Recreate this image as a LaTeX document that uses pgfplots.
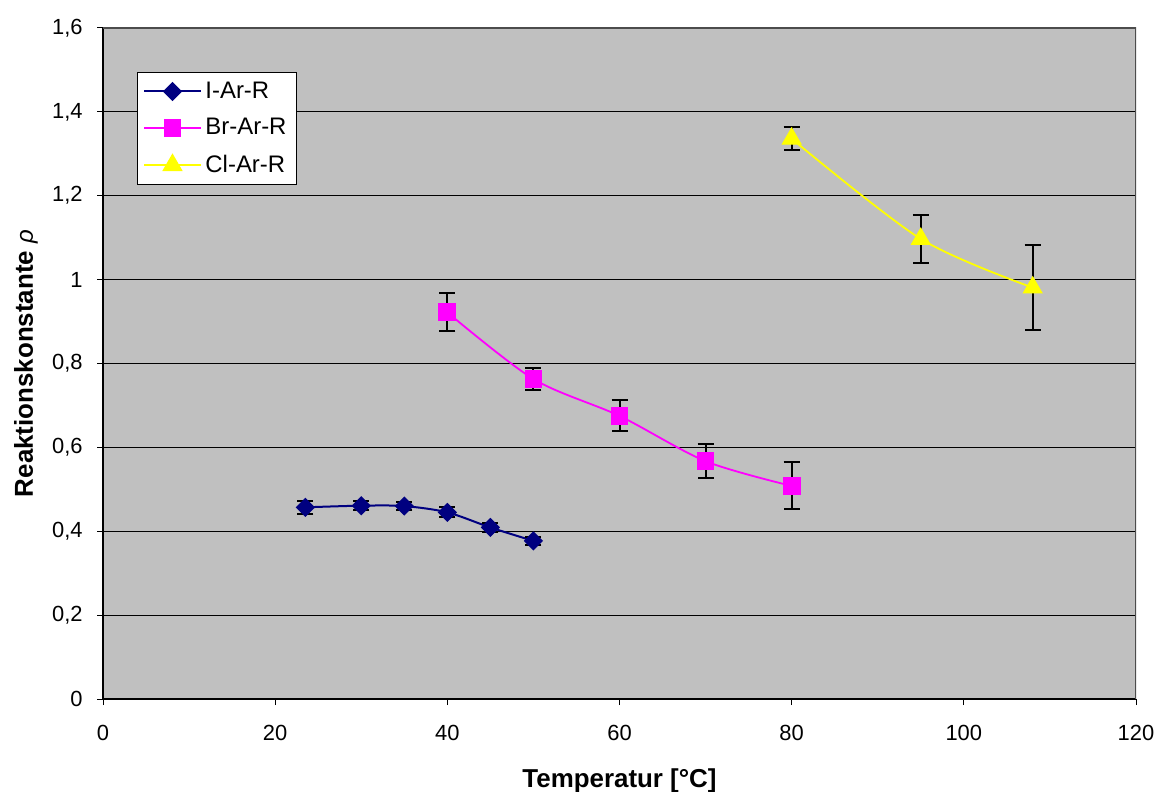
\documentclass[border=0pt]{standalone}
\usepackage{fontspec}
\setmainfont{Liberation Sans}
\usepackage{pgfplots}
\usepackage{pgfplotstable}
\pgfplotsset{compat=1.18}
\definecolor{plotbg}{HTML}{C0C0C0}
\definecolor{inavy}{HTML}{000080}
\definecolor{brmag}{HTML}{FF00FF}
\definecolor{clyel}{HTML}{FFFF00}

\pgfplotstableread{
x     y      e
23.5  0.457  0.016
30    0.461  0.010
35    0.460  0.009
40    0.445  0.012
45    0.409  0.011
50    0.377  0.009
}\dataI
\pgfplotstableread{
x   y      e
40  0.922  0.045
50  0.763  0.027
60  0.675  0.037
70  0.567  0.040
80  0.508  0.056
}\dataBr
\pgfplotstableread{
x    y      e
80   1.336  0.028
95   1.097  0.057
108  0.981  0.101
}\dataCl

\begin{document}
\begin{tikzpicture}
\begin{axis}[
  name=ax,
  scale only axis,
  width=516.5bp, height=335.5bp,
  xmin=0, xmax=120, ymin=0, ymax=1.6,
  xtick={0,20,...,120},
  ytick={0,0.2,...,1.6},
  axis background/.style={fill=plotbg},
  axis x line*=bottom, axis y line*=left,
  axis line style={black, line width=0.6bp},
  tick align=outside,
  major tick length=3bp,
  tick style={black, line width=0.5bp},
  ymajorgrids,
  grid style={black, line width=0.5bp},
  /pgf/number format/assume math mode=true,
  /pgf/number format/use comma,
  /pgf/number format/fixed,
  /pgf/number format/precision=1,
  tick label style={font=\fontsize{11}{13}\selectfont},
  yticklabel style={anchor=east, inner sep=0pt, xshift=-7bp},
  xticklabel style={anchor=north, inner sep=0pt, yshift=-10bp},
  xlabel={\textbf{Temperatur [°C]}},
  ylabel={\textbf{Reaktionskonstante} {\fontsize{12}{14}\selectfont\itshape ρ}},
  label style={font=\fontsize{13}{15}\selectfont},
  xlabel style={at={(axis description cs:0.5,-0.1326)}, anchor=base, inner sep=0pt},
  ylabel style={at={(axis description cs:-0.0678,0.5)}, anchor=base, inner sep=0pt, rotate=0},
  legend style={at={(axis description cs:0.0329,0.934)}, anchor=north west,
    draw=black, fill=white, line width=0.5bp,
    font=\fontsize{12}{14}\selectfont,
    inner xsep=3bp, inner ysep=2.5bp, row sep=4.6bp,
    cells={anchor=west}},
  legend image code/.code={\draw[mark repeat=2,mark phase=2] plot coordinates {(0bp,0bp) (14bp,0bp) (28bp,0bp)};},
  error bars/y dir=both,
  error bars/y explicit,
  error bars/error bar style={black, line width=1bp},
  error bars/error mark options={rotate=90, black, line width=1bp, mark size=4bp},
]
\addplot[color=inavy, line width=1bp, smooth, mark=square*, mark size=2.9bp,
  mark options={rotate=45, fill=inavy, draw=inavy}]
  table[x=x, y=y, y error=e] {\dataI};
\addlegendentry{I-Ar-R}
\addplot[color=brmag, line width=0.9bp, smooth, mark=square*, mark size=4bp,
  mark options={fill=brmag, draw=brmag}]
  table[x=x, y=y, y error=e] {\dataBr};
\addlegendentry{Br-Ar-R}
\addplot[color=clyel, line width=0.9bp, smooth, mark=triangle*, mark size=5bp,
  mark options={fill=clyel, draw=clyel}]
  table[x=x, y=y, y error=e] {\dataCl};
\addlegendentry{Cl-Ar-R}
% markers again, on top of the error bars
\addplot[forget plot, only marks, error bars/y dir=none, mark=square*, mark size=2.9bp,
  mark options={rotate=45, fill=inavy, draw=inavy}] table[x=x, y=y] {\dataI};
\addplot[forget plot, only marks, error bars/y dir=none, mark=square*, mark size=4bp,
  mark options={fill=brmag, draw=brmag}] table[x=x, y=y] {\dataBr};
\addplot[forget plot, only marks, error bars/y dir=none, mark=triangle*, mark size=5bp,
  mark options={fill=clyel, draw=clyel}] table[x=x, y=y] {\dataCl};
\draw[gray!60!black, line width=0.8bp] (rel axis cs:0,1) -- (rel axis cs:1,1) -- (rel axis cs:1,0);
\end{axis}
\pgfresetboundingbox
\path ([shift={(-51.5bp,-46.5bp)}]ax.south west) rectangle ([shift={(12.5bp,14bp)}]ax.north east);
\end{tikzpicture}
\end{document}
